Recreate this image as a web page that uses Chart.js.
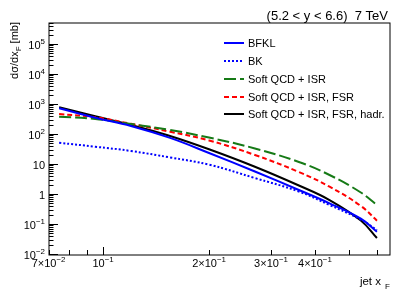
<!DOCTYPE html>
<html>
<head>
<meta charset="utf-8">
<script src="https://cdn.jsdelivr.net/npm/chart.js@4/dist/chart.umd.min.js"></script>
<style>
  html, body { margin: 0; padding: 0; background: #fff; }
  canvas { display: block; }
</style>
</head>
<body>
<canvas id="myChart" width="407" height="292"></canvas>
<script>
// values
const xF = [0.075, 0.095, 0.12, 0.155, 0.2, 0.27, 0.36, 0.44, 0.54, 0.6];
const bfkl = [719, 349, 185, 74, 23.3, 5.6, 1.36, 0.49, 0.15, 0.055];
const bk = [51, 37.7, 27.1, 16.5, 9.5, 3.4, 1.21, 0.43, 0.14, 0.063];
const softIsr = [377, 316, 215, 136, 76, 33, 11.7, 4.3, 1.12, 0.43];
const softIsrFsr = [464, 360, 218, 119, 61, 20, 5.4, 1.75, 0.4, 0.129];
const softHadr = [776, 389, 200, 86, 31, 8.1, 1.92, 0.63, 0.13, 0.034];

const seriesNames = ['BFKL', 'BK', 'Soft QCD + ISR', 'Soft QCD + ISR, FSR', 'Soft QCD + ISR, FSR, hadr.'];
const yTickExps = [-2, -1, 0, 1, 2, 3, 4, 5];
const xTickVals = [0.07, 0.1, 0.2, 0.3, 0.4];
const xTickLabels = [['7×10', '−2'], ['10', '−1'], ['2×10', '−1'], ['3×10', '−1'], ['4×10', '−1']];
const xMinorVals = [0.08, 0.09, 0.5, 0.6];

const FONT = '"Liberation Sans", Arial, sans-serif';

function pts(ys) {
    return xF.map(function (x, i) { return { x: x, y: ys[i] }; });
}

function drawPow(ctx, base, exp, x, y, align, size) {
    ctx.font = size + 'px ' + FONT;
    let wb = ctx.measureText(base).width;
    ctx.font = (size * 0.72) + 'px ' + FONT;
    let we = exp ? ctx.measureText(exp).width : 0;
    let w = wb + we;
    let x0 = align === 'right' ? x - w : (align === 'center' ? x - w / 2 : x);
    ctx.textAlign = 'left';
    ctx.textBaseline = 'alphabetic';
    ctx.font = size + 'px ' + FONT;
    ctx.fillText(base, x0, y);
    if (exp) {
        ctx.font = (size * 0.72) + 'px ' + FONT;
        ctx.fillText(exp, x0 + wb, y - size * 0.45);
    }
}

const rootAxes = {
    id: 'rootAxes',
    afterDraw(chart) {
        let ctx = chart.ctx;
        let a = chart.chartArea;
        let xs = chart.scales.x;
        let ys = chart.scales.y;
        ctx.save();
        ctx.fillStyle = '#000';
        ctx.strokeStyle = '#000';
        ctx.lineWidth = 1;
        ctx.setLineDash([]);
        ctx.strokeRect(a.left, a.top, a.right - a.left, a.bottom - a.top);

        // y ticks
        ctx.beginPath();
        for (let e = -2; e <= 5; e++) {
            for (let m = 1; m <= 9; m++) {
                let v = m * Math.pow(10, e);
                if (v < ys.min || v > ys.max) continue;
                let y = Math.round(ys.getPixelForValue(v)) + 0.5;
                let len = m === 1 ? 9 : 4.5;
                ctx.moveTo(a.left, y);
                ctx.lineTo(a.left + len, y);
            }
        }
        // x ticks
        xTickVals.concat(xMinorVals).forEach(function (v) {
            let x = Math.round(xs.getPixelForValue(v)) + 0.5;
            let len = v === 0.1 ? 8 : 5;
            ctx.moveTo(x, a.bottom);
            ctx.lineTo(x, a.bottom - len);
        });
        ctx.stroke();

        // y labels
        yTickExps.forEach(function (e) {
            let y = ys.getPixelForValue(Math.pow(10, e)) + 5;
            if (e === 0) drawPow(ctx, '1', '', 45, y, 'right', 11);
            else if (e === 1) drawPow(ctx, '10', '', 45, y, 'right', 11);
            else drawPow(ctx, '10', e < 0 ? '−' + (-e) : String(e), 45, y, 'right', 11);
        });
        // x labels
        xTickVals.forEach(function (v, i) {
            let x = xs.getPixelForValue(v);
            drawPow(ctx, xTickLabels[i][0], xTickLabels[i][1], x, 267, 'center', 11);
        });

        // titles
        ctx.font = '13px ' + FONT;
        ctx.textAlign = 'right';
        ctx.fillText('(5.2 < y < 6.6)  7 TeV', 388, 20);

        ctx.font = '11.5px ' + FONT;
        ctx.fillText('jet x', 381, 285);
        ctx.font = '8px ' + FONT;
        ctx.textAlign = 'left';
        ctx.fillText('F', 385, 289);

        // y title, rotated
        ctx.save();
        ctx.translate(18, 22);
        ctx.rotate(-Math.PI / 2);
        ctx.font = '11px ' + FONT;
        let p1 = 'dσ/dx', p2 = ' [mb]';
        let w1 = ctx.measureText(p1).width;
        let w2 = ctx.measureText(p2).width;
        ctx.font = '8px ' + FONT;
        let wf = ctx.measureText('F').width;
        let x0 = -(w1 + wf + w2);
        ctx.font = '11px ' + FONT;
        ctx.textAlign = 'left';
        ctx.fillText(p1, x0, 0);
        ctx.fillText(p2, x0 + w1 + wf, 0);
        ctx.font = '8px ' + FONT;
        ctx.fillText('F', x0 + w1, 3);
        ctx.restore();

        // legend
        let rowY = [43, 61, 79, 97, 114];
        chart.data.datasets.forEach(function (ds, i) {
            ctx.beginPath();
            ctx.strokeStyle = ds.borderColor;
            ctx.lineWidth = ds.borderWidth;
            ctx.setLineDash(ds.borderDash || []);
            ctx.moveTo(224, rowY[i]);
            ctx.lineTo(244, rowY[i]);
            ctx.stroke();
            ctx.setLineDash([]);
            ctx.fillStyle = '#000';
            ctx.font = '11px ' + FONT;
            ctx.textAlign = 'left';
            ctx.textBaseline = 'middle';
            ctx.fillText(ds.label, 248, rowY[i] + 0.5);
        });
        ctx.restore();
    }
};

let ctx = document.getElementById('myChart').getContext('2d');
let myChart = new Chart(ctx, {
    type: 'line',
    data: {
        datasets: [
            { label: seriesNames[0], data: pts(bfkl), borderColor: '#0000ff', borderWidth: 2 },
            { label: seriesNames[1], data: pts(bk), borderColor: '#0000ff', borderWidth: 2, borderDash: [2, 2] },
            { label: seriesNames[2], data: pts(softIsr), borderColor: '#167a16', borderWidth: 2, borderDash: [12, 4] },
            { label: seriesNames[3], data: pts(softIsrFsr), borderColor: '#ff0000', borderWidth: 2, borderDash: [5, 3] },
            { label: seriesNames[4], data: pts(softHadr), borderColor: '#000000', borderWidth: 2 }
        ]
    },
    options: {
        responsive: false,
        animation: false,
        devicePixelRatio: 1,
        layout: { padding: { left: 49, right: 17, top: 23, bottom: 37 } },
        elements: {
            point: { radius: 0 },
            line: { tension: 0.4, fill: false }
        },
        plugins: { legend: { display: false }, tooltip: { enabled: false } },
        scales: {
            x: { type: 'logarithmic', min: 0.0702, max: 0.6535, display: false },
            y: { type: 'logarithmic', min: 0.00926, max: 5.0e5, display: false }
        }
    },
    plugins: [rootAxes]
});
</script>
</body>
</html>
